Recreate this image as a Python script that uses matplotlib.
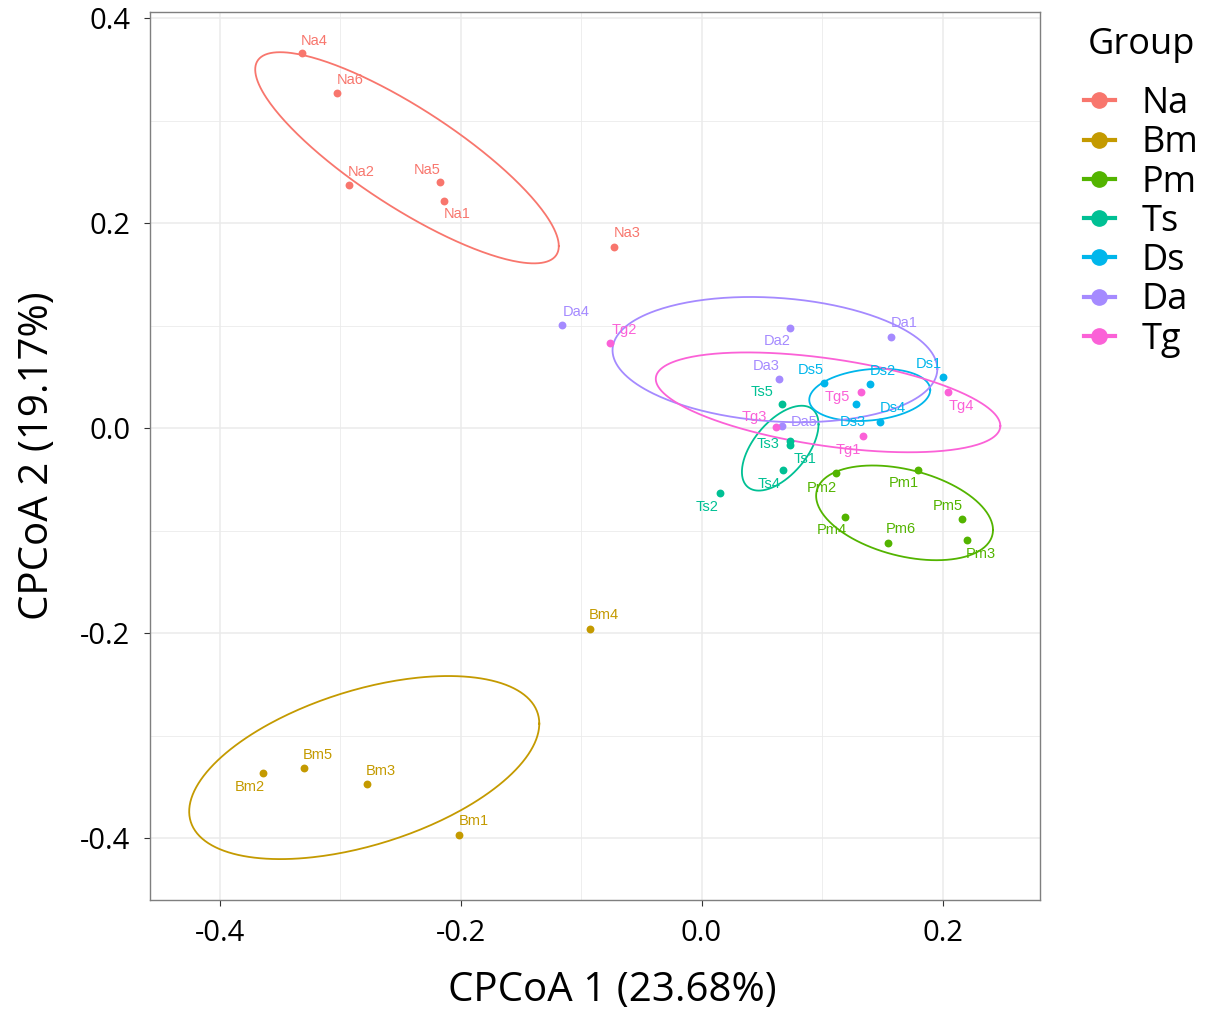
import numpy as np
import matplotlib
matplotlib.use('Agg')
import matplotlib.pyplot as plt
from matplotlib.lines import Line2D

plt.rcParams['font.family'] = ['Open Sans', 'DejaVu Sans']

groups = ['Na', 'Bm', 'Pm', 'Ts', 'Ds', 'Da', 'Tg']
colors = ['#F8766D', '#C49A00', '#53B400', '#00C094', '#00B6EB', '#A58AFF', '#FB61D7']

# sample coordinates
na_names = ['Na1', 'Na2', 'Na3', 'Na4', 'Na5', 'Na6']
na_x = [-0.214, -0.293, -0.073, -0.332, -0.217, -0.303]
na_y = [0.222, 0.237, 0.177, 0.366, 0.240, 0.327]

bm_names = ['Bm1', 'Bm2', 'Bm3', 'Bm4', 'Bm5']
bm_x = [-0.201, -0.364, -0.278, -0.093, -0.330]
bm_y = [-0.397, -0.336, -0.347, -0.196, -0.331]

pm_names = ['Pm1', 'Pm2', 'Pm3', 'Pm4', 'Pm5', 'Pm6']
pm_x = [0.1796, 0.1115, 0.2206, 0.1187, 0.216, 0.155]
pm_y = [-0.0406, -0.0432, -0.1088, -0.087, -0.0886, -0.1117]

ts_names = ['Ts1', 'Ts2', 'Ts3', 'Ts4', 'Ts5']
ts_x = [0.0730, 0.0154, 0.0738, 0.0675, 0.0669]
ts_y = [-0.0163, -0.063, -0.0121, -0.0406, 0.0237]

ds_names = ['Ds1', 'Ds2', 'Ds3', 'Ds4', 'Ds5']
ds_x = [0.200, 0.140, 0.1284, 0.1478, 0.1016]
ds_y = [0.0497, 0.0428, 0.0237, 0.0061, 0.0438]

da_names = ['Da1', 'Da2', 'Da3', 'Da4', 'Da5']
da_x = [0.157, 0.0736, 0.0645, -0.1158, 0.0667]
da_y = [0.0892, 0.0974, 0.048, 0.1006, 0.0025]

tg_names = ['Tg1', 'Tg2', 'Tg3', 'Tg4', 'Tg5']
tg_x = [0.1336, -0.0759, 0.062, 0.2046, 0.132]
tg_y = [-0.0072, 0.0829, 0.0016, 0.035, 0.0356]

# ellipses: centre x, centre y, half width, half height, correlation
ell_cx = [-0.2445, -0.280, 0.1685, 0.0653, 0.1396, 0.0609, 0.105]
ell_cy = [0.2639, -0.331, -0.0825, -0.0194, 0.0326, 0.0670, 0.0253]
ell_hx = [0.126, 0.1453, 0.0734, 0.0318, 0.0502, 0.1348, 0.143]
ell_hy = [0.103, 0.0893, 0.0462, 0.0414, 0.0255, 0.0611, 0.0487]
ell_r = [-0.836, 0.48, -0.36, 0.56, 0.19, -0.15, -0.47]

# label offsets in pixels (right, down)
lab_off = {
    'Na1': (13, 13), 'Na2': (13, -13), 'Na3': (14, -14), 'Na4': (13, -12), 'Na5': (-13, -12), 'Na6': (14, -13),
    'Bm1': (14, -14), 'Bm2': (-13, 14), 'Bm3': (14, -13), 'Bm4': (14, -14), 'Bm5': (14, -13),
    'Pm1': (-14, 13), 'Pm2': (-14, 15), 'Pm3': (13, 14), 'Pm4': (-13, 13), 'Pm5': (-14, -13), 'Pm6': (13, -14),
    'Ts1': (16, 14), 'Ts2': (-13, 14), 'Ts3': (-22, 3), 'Ts4': (-14, 14), 'Ts5': (-20, -12),
    'Ds1': (-14, -13), 'Ds2': (13, -13), 'Ds3': (-3, 18), 'Ds4': (13, -14), 'Ds5': (-13, -13),
    'Da1': (13, -14), 'Da2': (-13, 13), 'Da3': (-13, -13), 'Da4': (14, -13), 'Da5': (22, -4),
    'Tg1': (-14, 14), 'Tg2': (14, -13), 'Tg3': (-22, -10), 'Tg4': (13, 14), 'Tg5': (-23, 5),
}

data = [(na_names, na_x, na_y), (bm_names, bm_x, bm_y), (pm_names, pm_x, pm_y),
        (ts_names, ts_x, ts_y), (ds_names, ds_x, ds_y), (da_names, da_x, da_y),
        (tg_names, tg_x, tg_y)]

fig = plt.figure(figsize=(12.08, 10.11), dpi=100)
ax = fig.add_axes([0.124, 0.110, 0.737, 0.878])

tt = np.linspace(0, 2*np.pi, 300)
for i, (nm, xx, yy) in enumerate(data):
    cc = colors[i]
    ax.scatter(xx, yy, s=32, color=cc, zorder=3, linewidths=0)
    for n, x, y in zip(nm, xx, yy):
        dx, dy = lab_off[n]
        ax.annotate(n, (x, y), xytext=(dx, -dy), textcoords='offset pixels',
                    ha='center', va='center', color=cc, fontsize=10.5,
                    family='Liberation Sans', zorder=4)
    r = ell_r[i]
    ex = ell_cx[i] + ell_hx[i]*np.cos(tt)
    ey = ell_cy[i] + ell_hy[i]*(r*np.cos(tt) + np.sqrt(1 - r**2)*np.sin(tt))
    ax.plot(ex, ey, color=cc, lw=1.3, zorder=2)

ax.set_xlim(-0.458, 0.281)
ax.set_ylim(-0.46, 0.406)
ax.set_xticks([-0.4, -0.2, 0.0, 0.2])
ax.set_yticks([-0.4, -0.2, 0.0, 0.2, 0.4])
ax.set_xticks([-0.3, -0.1, 0.1], minor=True)
ax.set_yticks([-0.3, -0.1, 0.1, 0.3], minor=True)
ax.set_xticklabels(['-0.4', '-0.2', '0.0', '0.2'])
ax.set_yticklabels(['-0.4', '-0.2', '0.0', '0.2', '0.4'])
ax.grid(which='major', color='#EBEBEB', lw=1.1, zorder=0)
ax.grid(which='minor', color='#EBEBEB', lw=0.6, zorder=0)
ax.set_axisbelow(True)
for sp in ax.spines.values():
    sp.set_color('#7F7F7F')
    sp.set_linewidth(1.0)
ax.tick_params(which='major', length=4, color='#333333', labelsize=21, pad=10)
ax.tick_params(which='minor', length=0)

ax.set_xlabel('CPCoA 1 (23.68%)', fontsize=29, labelpad=16, x=0.52)
ax.set_ylabel('CPCoA 2 (19.17%)', fontsize=29, labelpad=16)

# legend
fig.text(1088/1208, 1 - 45/1011, 'Group', fontsize=26, ha='left', va='center')
handles = [Line2D([0], [0], color=c, marker='o', markersize=11, lw=3) for c in colors]
fig.legend(handles, groups, loc='upper left', bbox_to_anchor=(1084/1208, 1 - 86/1011),
           frameon=False, fontsize=26, handlelength=0.85, handletextpad=0.75,
           labelspacing=0.09, borderaxespad=0, borderpad=0)

plt.savefig('out.png', dpi=100)
